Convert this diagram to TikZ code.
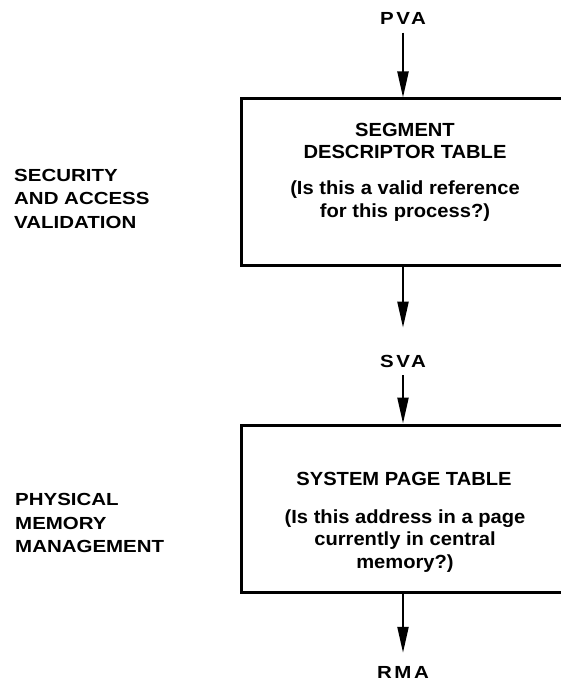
\documentclass[tikz,border=0pt]{standalone}
\usepackage{fontspec}
\setmainfont{Liberation Sans}
\newfontfamily\lblfont{Liberation Sans}[FakeStretch=1.17]
\newfontfamily\abbrfont{Liberation Sans}[FakeStretch=1.17,LetterSpace=15]
\newfontfamily\boxfont{Liberation Sans}[FakeStretch=1.06]
\usetikzlibrary{arrows.meta}
\begin{document}
\begin{tikzpicture}[x=1pt,y=-1pt,
  tblbox/.style={draw, line width=3pt, rectangle, minimum width=330pt, inner sep=0pt},
  lbl/.style={inner sep=0pt, font=\lblfont\bfseries\fontsize{17.5}{23.5}\selectfont},
  abbr/.style={inner sep=0pt, font=\abbrfont\bfseries\fontsize{17.5}{23.5}\selectfont},
  sidelbl/.style={lbl, anchor=west, align=left},
  boxtxt/.style={inner sep=0pt, align=center, font=\boxfont\bfseries\fontsize{19}{22.5}\selectfont},
  arr/.style={line width=2.2pt, -{Triangle[length=26pt,width=11pt]}}]
\useasboundingbox (0,0) rectangle (561,682);
\clip (0,0) rectangle (561,682);
\fill[white] (0,0) rectangle (561,682);
% boxes
\node[tblbox, minimum height=166pt] (box1) at (406,182) {};
\node[tblbox, minimum height=167pt] (box2) at (406,508.5) {};
% box texts
\node[boxtxt] (t1) at (405,141) {SEGMENT\\DESCRIPTOR TABLE};
\node[boxtxt] (q1) at (405,201) {(Is this a valid reference\\for this process?)};
\node[boxtxt] (t2) at (404,479) {SYSTEM PAGE TABLE};
\node[boxtxt] (q2) at (405,541) {(Is this address in a page\\currently in central\\memory?)};
% address labels
\node[abbr] (pva) at (403,18.5) {PVA};
\node[abbr] (sva) at (403,361) {SVA};
\node[abbr] (rma) at (403,672) {RMA};
% side labels
\node[sidelbl] (sec) at (14,198.5) {SECURITY\\AND ACCESS\\VALIDATION};
\node[sidelbl] (phy) at (15,523) {PHYSICAL\\MEMORY\\MANAGEMENT};
% arrows
\draw[arr, shorten <=8pt] (pva.south) -- (pva.south |- box1.north);
\draw[arr, shorten >=27pt] (sva.north |- box1.south) -- (sva.north);
\draw[arr, shorten <=8pt] (sva.south) -- (sva.south |- box2.north);
\draw[arr, shorten >=13pt] (rma.north |- box2.south) -- (rma.north);
\end{tikzpicture}
\end{document}
